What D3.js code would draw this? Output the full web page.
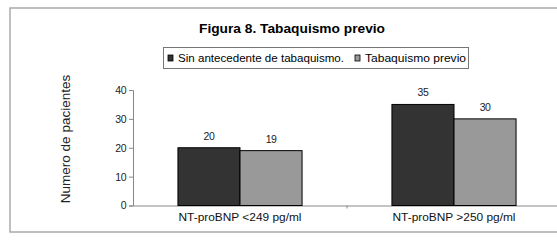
<!DOCTYPE html>
<html><head><meta charset="utf-8">
<script src="https://cdn.jsdelivr.net/npm/d3@7"></script>
<style>body{margin:0;background:#fff}svg{display:block;font-family:"Liberation Sans",Arial,sans-serif}</style>
</head><body><svg id="c" width="557" height="240"></svg>
<script>
const categories = ["NT-proBNP <249 pg/ml", "NT-proBNP >250 pg/ml"];
const seriesNames = ["Sin antecedente de tabaquismo.", "Tabaquismo previo"];
const sinAntecedente = [20, 35];
const tabaquismoPrevio = [19, 30];
const yTicks = [0, 10, 20, 30, 40];
const title = "Figura 8. Tabaquismo previo";
const yTitle = "Numero de pacientes";
const colors = ["#333333", "#999999"];

const svg = d3.select("#c");
svg.append("rect").attr("x", 10).attr("y", 8).attr("width", 560).attr("height", 224)
  .attr("fill", "none").attr("stroke", "#aaa").attr("stroke-width", 1.5);

const x0 = d3.scaleBand().domain(categories).range([133, 561]).paddingInner(0.42).paddingOuter(0.21);
const x1 = d3.scaleBand().domain(seriesNames).range([0, x0.bandwidth()]);
const y = d3.scaleLinear().domain([0, 40]).range([205.5, 90]);

svg.append("text").attr("x", 199).attr("y", 33)
  .attr("font-size", 12.5).attr("font-weight", "bold")
  .attr("textLength", 186).attr("lengthAdjust", "spacingAndGlyphs").text(title);

// legend
const lg = svg.append("g");
lg.append("rect").attr("x", 163.5).attr("y", 47.5).attr("width", 305).attr("height", 21)
  .attr("fill", "#fff").attr("stroke", "#777");
const legX = [168, 355];
const legW = [166, 101];
seriesNames.forEach((s, i) => {
  lg.append("rect").attr("x", legX[i]).attr("y", 55).attr("width", 5).attr("height", 6)
    .attr("fill", colors[i]).attr("stroke", "#000").attr("stroke-width", 0.8);
  lg.append("text").attr("x", legX[i] + 10).attr("y", 62).attr("font-size", 10.5)
    .attr("textLength", legW[i]).attr("lengthAdjust", "spacingAndGlyphs").text(s);
});

// y axis
const yAxis = d3.axisLeft(y).tickValues(yTicks).tickSize(4).tickPadding(3);
const ga = svg.append("g").attr("transform", "translate(133,0)").call(yAxis);
ga.select(".domain").attr("stroke", "#888");
ga.selectAll(".tick line").attr("stroke", "#888");
ga.selectAll("text").attr("font-size", 10.5).attr("letter-spacing", -0.5).attr("fill", "#222")
  .attr("font-family", "Liberation Sans, Arial, sans-serif");

// x axis
const xAxis = d3.axisBottom(x0).tickSize(0).tickPadding(8);
const gx = svg.append("g").attr("transform", "translate(0,205.5)").call(xAxis);
gx.select(".domain").attr("stroke", "#888");
gx.selectAll("text").attr("font-size", 10.5).attr("fill", "#111")
  .attr("textLength", 123).attr("lengthAdjust", "spacingAndGlyphs")
  .attr("font-family", "Liberation Sans, Arial, sans-serif");
gx.append("line").attr("x1", 347).attr("x2", 347).attr("y1", 0).attr("y2", 3).attr("stroke", "#888");

svg.append("text").attr("transform", "translate(70,139) rotate(-90)").attr("text-anchor", "middle")
  .attr("font-size", 13.5).attr("fill", "#222").text(yTitle);

const data = categories.map((c, i) => ({c, vals: [sinAntecedente[i], tabaquismoPrevio[i]]}));
const g = svg.append("g").selectAll("g").data(data).join("g")
  .attr("transform", d => `translate(${x0(d.c)},0)`);
g.selectAll("rect").data(d => d.vals.map((v, i) => ({v, s: seriesNames[i], i}))).join("rect")
  .attr("x", d => x1(d.s)).attr("y", d => y(d.v)).attr("width", x1.bandwidth())
  .attr("height", d => y(0) - y(d.v)).attr("fill", d => colors[d.i])
  .attr("stroke", "#000").attr("stroke-width", 1);
g.selectAll("text").data(d => d.vals.map((v, i) => ({v, s: seriesNames[i]}))).join("text")
  .attr("x", d => x1(d.s) + x1.bandwidth() / 2).attr("y", d => y(d.v) - 8)
  .attr("text-anchor", "middle").attr("font-size", 10.5).attr("letter-spacing", -0.5).attr("fill", "#222")
  .text(d => d.v);
</script></body></html>
